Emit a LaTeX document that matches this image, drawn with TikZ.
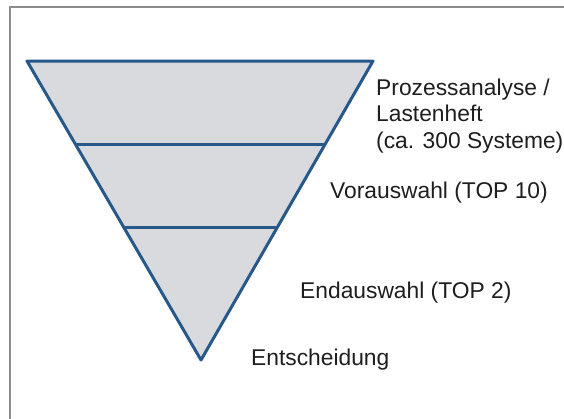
\documentclass[tikz,border=0pt]{standalone}
\usepackage{fontspec}
\setmainfont{Liberation Sans}
\usetikzlibrary{calc}
\definecolor{funnelblue}{RGB}{38,88,138}
\definecolor{funnelfill}{RGB}{217,218,222}
\definecolor{framegray}{RGB}{140,140,140}
\definecolor{textgray}{RGB}{30,30,30}
\begin{document}
\begin{tikzpicture}[x=1pt,y=-1pt,
  lbl/.style={anchor=base west,inner sep=0pt,text=textgray,font=\fontsize{22.8}{26.5}\selectfont,align=left},
  funnelline/.style={draw=funnelblue,line width=3pt,line join=round}]
\useasboundingbox (0,0) rectangle (564,418);
\draw[framegray,line width=2pt] (9.5,420) -- (9.5,6.5) -- (566,6.5);
\coordinate (tl) at (27,61);
\coordinate (tr) at (373,61);
\coordinate (ap) at (201,360);
\fill[funnelfill] (tl) -- (tr) -- (ap) -- cycle;
\coordinate (a1) at ($(tl)!0.28!(ap)$);
\coordinate (b1) at ($(tr)!0.28!(ap)$);
\coordinate (a2) at ($(tl)!0.557!(ap)$);
\coordinate (b2) at ($(tr)!0.557!(ap)$);
\draw[funnelline] (a1) -- (b1);
\draw[funnelline] (a2) -- (b2);
\draw[funnelline] (tl) -- (tr) -- (ap) -- cycle;
\node[lbl] (l1) at (376,148) {Prozessanalyse /\\Lastenheft\\(ca. 300 Systeme)};
\node[lbl] (l2) at (330,198) {Vorauswahl (TOP 10)};
\node[lbl] (l3) at (300,298) {Endauswahl (TOP 2)};
\node[lbl] (l4) at (251,365) {Entscheidung};
\end{tikzpicture}
\end{document}
